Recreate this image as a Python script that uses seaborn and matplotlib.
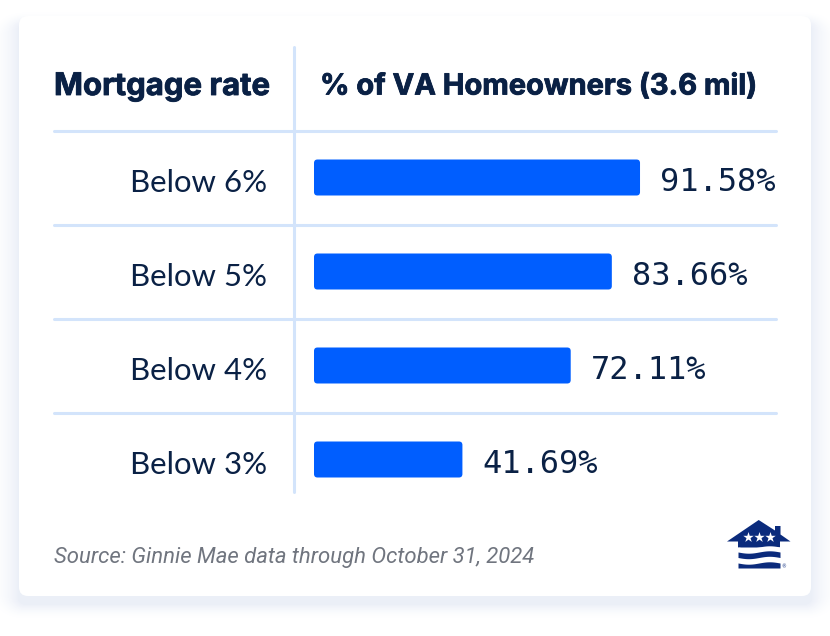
import numpy as np
import pandas as pd
import matplotlib
matplotlib.use("Agg")
import matplotlib.pyplot as plt
import matplotlib.patheffects as pe
from matplotlib.colors import to_rgb
from matplotlib.patches import FancyBboxPatch, Polygon
import seaborn as sns

categories = ["Below 6%", "Below 5%", "Below 4%", "Below 3%"]
values = [91.58, 83.66, 72.11, 41.69]
header_left = "Mortgage rate"
header_right = "% of VA Homeowners (3.6 mil)"
source = "Source: Ginnie Mae data through October 31, 2024"

W, H = 830, 636
NAVY = "#0A2145"
BLUE = "#005EFF"
RULE = "#D3E4FB"
LOGO = "#0B2B7C"
SHADOW = "#EAEEF7"

sns.set_theme(style="white")
fig = plt.figure(figsize=(W / 100, H / 100), dpi=100, facecolor="white")

# page layer in pixel coordinates
bg = fig.add_axes([0, 0, 1, 1], zorder=0)
bg.set_xlim(0, W)
bg.set_ylim(H, 0)
bg.axis("off")

steps = 34
white, deep = np.array(to_rgb("white")), np.array(to_rgb(SHADOW))
for i in range(steps, 0, -1):
    t = (1 - i / steps) ** 2
    bg.add_patch(FancyBboxPatch((19 - i, 16 - i * 0.4 + 8), 792 + 2 * i, 580 + i * 0.9, clip_on=False,
                                boxstyle="round,pad=0,rounding_size=%f" % (8 + i),
                                fc=white + (deep - white) * t, ec="none"))
bg.add_patch(FancyBboxPatch((19, 16), 792, 580, boxstyle="round,pad=0,rounding_size=9",
                            fc="white", ec="none"))

for y in [130.5, 224.5, 318.5, 412.5]:
    bg.plot([54, 776], [y, y], color=RULE, lw=2.2, solid_capstyle="round")
bg.plot([294, 294], [47, 492], color=RULE, lw=2.2, solid_capstyle="round")

heavy = [pe.withStroke(linewidth=0.6, foreground=NAVY)]
bg.text(54, 87, header_left, fontsize=22.4, fontweight="bold", family="Inter", color=NAVY,
        va="center", ha="left", path_effects=heavy)
bg.text(320, 87, header_right, fontsize=20.9, fontweight="bold", family="Inter", color=NAVY,
        va="center", ha="left", path_effects=heavy)
bg.text(54, 557.5, source, fontsize=15.9, style="italic", family="Roboto", color="#70757F", va="center", ha="left")

# bar layer: one category = 94 px, one percent = 3.56 px
L, R, T, B = 314, 777, 130.5, 506.5
ax = fig.add_axes([L / W, 1 - B / H, (R - L) / W, (B - T) / H], zorder=1)
ax.patch.set_alpha(0)
df = pd.DataFrame({"rate": categories, "share": values})
sns.barplot(data=df, x="share", y="rate", ax=ax, color=BLUE, width=0.383, saturation=1, orient="h")
ax.set_xlim(0, (R - L) / 3.56)
ax.set_ylim(3.5, -0.5)
ax.axis("off")

# round the bar corners, and label each bar
fig.canvas.draw()
for bar, cat, val in zip(list(ax.patches), categories, values):
    x0, y0, w, h = bar.get_x(), bar.get_y(), bar.get_width(), bar.get_height()
    bar.set_visible(False)
    (px0, py0), (px1, py1) = ax.transData.transform([(x0, y0), (x0 + w, y0 + h)])
    (bx0, by0), (bx1, by1) = bg.transData.inverted().transform([(px0, py0), (px1, py1)])
    bg.add_patch(FancyBboxPatch((bx0, min(by0, by1)), bx1 - bx0, abs(by1 - by0),
                                boxstyle="round,pad=0,rounding_size=3.5", fc=BLUE, ec="none", zorder=3))
    cy = (by0 + by1) / 2
    bg.text(267, cy + 5, cat, fontsize=22.4, family="Lato", color=NAVY, va="center", ha="right")
    bg.text(bx1 + 20, cy + 5, f"{val:.2f}%", fontsize=23, family="DejaVu Sans Mono", color=NAVY,
            va="center", ha="left")

# logo
bg.add_patch(Polygon([(727, 541.5), (758.7, 520), (775, 530.5), (775, 526), (780.5, 526),
                      (780.5, 534.5), (790.5, 541.5), (780, 541.5), (780, 547.5), (738, 547.5),
                      (738, 541.5)], fc=LOGO, ec="none", zorder=4))
xs = np.linspace(738, 780, 40)
wave = 1.2 * np.sin((xs - 738) / 42 * 2 * np.pi)
bg.fill_between(xs, 547 + wave, 550 + wave, color="white", zorder=4.5, lw=0)
bg.fill_between(xs, 552 + wave, 557.5 + wave, color=LOGO, zorder=4, lw=0)
bg.fill_between(xs, 563 + wave, 568, color=LOGO, zorder=4, lw=0)
bg.scatter([748, 759, 770], [537, 537, 537], marker="*", s=62, color="white", lw=0, zorder=5)
bg.text(783.5, 566.5, "®", fontsize=3.5, color=LOGO, ha="center", va="center", family="DejaVu Sans")

fig.savefig("out.png", dpi=100, facecolor="white")
